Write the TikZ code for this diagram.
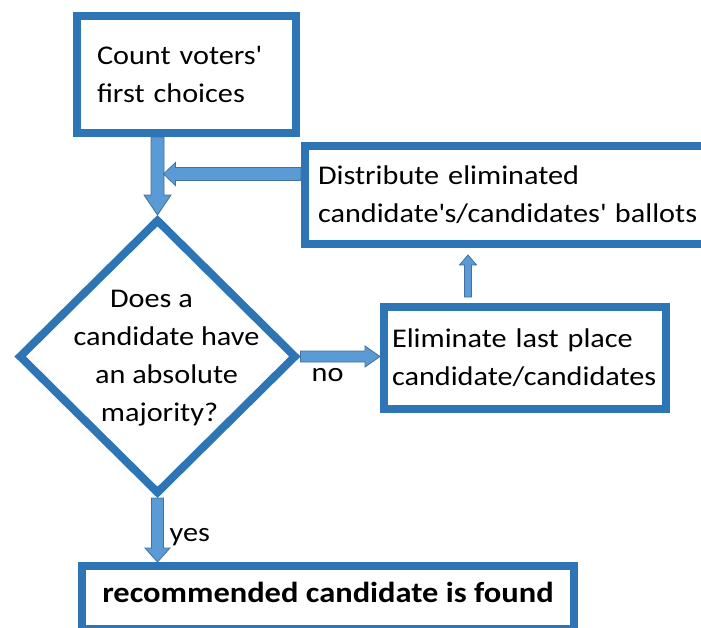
\documentclass[tikz,border=0pt]{standalone}
\usepackage{fontspec}
\setmainfont{Carlito}[FakeStretch=1.12]
\usepackage{tikz}
\usetikzlibrary{positioning,calc,shapes.geometric}
\definecolor{BoxBlue}{HTML}{2E75B6}
\definecolor{ArrFill}{HTML}{5B9BD5}
\definecolor{ArrLine}{HTML}{41719C}

\begin{document}
\begin{tikzpicture}[
  x=1pt, y=-1pt,
  font=\fontsize{27}{38}\selectfont,
  box/.style={draw=BoxBlue,line width=8pt,align=left,inner ysep=0pt},
  ask/.style={draw=BoxBlue,line width=8pt,diamond,inner sep=0pt,minimum width=278pt,minimum height=275pt},
  lbl/.style={inner sep=0pt},
  arr/.style n args={3}{draw=ArrLine,fill=ArrFill,line width=0.8pt,
    to path={let \p1=($(\tikztotarget)!#3!(\tikztostart)$) in
      ($(\tikztostart)!#1!90:(\tikztotarget)$) -- ($(\p1)!#1!90:(\tikztotarget)$)
      -- ($(\p1)!#2!90:(\tikztotarget)$) -- (\tikztotarget)
      -- ($(\p1)!#2!-90:(\tikztotarget)$) -- ($(\p1)!#1!-90:(\tikztotarget)$)
      -- ($(\tikztostart)!#1!-90:(\tikztotarget)$) -- cycle}}
]
\useasboundingbox (0,0) rectangle (701,627);
\clip (0,0) rectangle (701,627);

% steps
\node[box,anchor=north west,text width=179pt,inner xsep=20pt,minimum height=117pt] (count) at (73,12) {Count voters\textquotesingle\\first choices};
\node[ask] (quest) at (157.5,356.5) {\makebox[0pt]{\hspace*{18pt}\begin{tabular}{@{}c@{}}Does a\hspace*{30pt}\\candidate have\\an absolute\\majority?\hspace*{14pt}\end{tabular}}};
\node[box,anchor=west,text width=385pt,inner xsep=13pt,minimum height=98pt] (spread) at (301,195) {Distribute eliminated\\candidate\textquotesingle s/candidates\textquotesingle{} ballots};
\node[box,anchor=north west,text width=266pt,inner xsep=8pt,minimum height=102pt] (elim) at (380,303) {Eliminate last place\\candidate/candidates};
\node[box,anchor=north west,minimum width=492pt,minimum height=63pt,font=\fontsize{29}{38}\selectfont\bfseries,text height=19pt,text depth=9pt] (found) at (78,562) {recommended candidate is found};

% arrow ends
\coordinate (merge) at (163.5,174);
\coordinate (upfoot) at ([yshift=6pt]elim.north -| 468,0);
\coordinate (uptip) at ([yshift=-7pt]spread.south -| 468,0);

\draw[arr={6.5pt}{13.5pt}{20pt}] (count.south -| quest.north) to (quest.north);
\draw[arr={6.5pt}{11.5pt}{12pt}] (spread.west |- merge) to (merge);
\draw[arr={3.5pt}{8.5pt}{10pt}] (upfoot) to (uptip);
\draw[arr={5.5pt}{10.5pt}{15pt}] (quest.east) to (elim.west |- quest.east);
\draw[arr={6pt}{12.5pt}{14pt}] (quest.south) to (found.north -| quest.south);

\node[lbl,below right=12pt and 11pt of quest.east] (no) {no};
\node[lbl,below right=30pt and 12pt of quest.south] (yes) {yes};
\end{tikzpicture}
\end{document}
